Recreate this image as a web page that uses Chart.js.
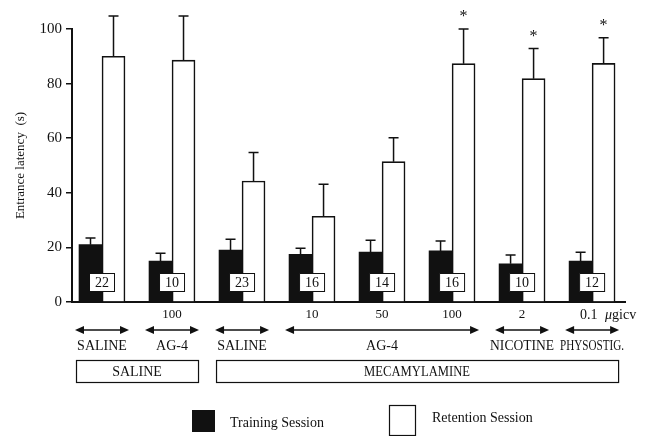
<!DOCTYPE html>
<html>
<head>
<meta charset="utf-8">
<script src="https://cdn.jsdelivr.net/npm/chart.js@4/dist/chart.umd.min.js"></script>
<style>
  html, body { margin: 0; padding: 0; background: #fff; }
  #c { display: block; }
</style>
</head>
<body>
<canvas id="c" width="650" height="436"></canvas>
<script>
// Passive avoidance: entrance latency per treatment group
const groupIndex = [0, 1, 2, 3, 4, 5, 6, 7];
const trainingMean = [21.0, 15.0, 19.0, 17.5, 18.3, 18.7, 14.0, 15.0];
const trainingSem  = [2.4, 2.9, 4.0, 2.2, 4.3, 3.6, 3.2, 3.2];
const retentionMean = [90.0, 88.6, 44.3, 31.4, 51.4, 87.3, 81.8, 87.4];
const retentionSem  = [14.8, 16.2, 10.5, 11.7, 8.8, 12.7, 11.1, 9.4];
const animalsPerGroup = [22, 10, 23, 16, 14, 16, 10, 12];
const significant = [false, false, false, false, false, true, true, true];
const yTicks = [0, 20, 40, 60, 80, 100];

// Dose row, treatment row (arrows) and pretreatment row (boxes)
const doseLabels = ['', '100', '', '10', '50', '100', '2', '0.1'];
const doseUnit = ['μ', 'gicv'];
const treatmentFrom  = [0, 1, 2, 3, 6, 7];
const treatmentTo    = [0, 1, 2, 5, 6, 7];
const treatmentNames = ['SALINE', 'AG-4', 'SALINE', 'AG-4', 'NICOTINE', 'PHYSOSTIG.'];
const pretreatFrom  = [0, 2];
const pretreatTo    = [1, 7];
const pretreatNames = ['SALINE', 'MECAMYLAMINE'];
const legendNames = ['Training Session', 'Retention Session'];

const SERIF = "'Liberation Serif', 'Times New Roman', serif";
const INK = '#111';

const annotate = {
  id: 'annotate',
  afterDatasetsDraw(chart) {
    const { ctx, scales: { x, y }, chartArea } = chart;
    const means = [trainingMean, retentionMean];
    const sems = [trainingSem, retentionSem];
    ctx.save();
    ctx.strokeStyle = INK;
    ctx.lineWidth = 1.5;
    // upward error bars
    for (let d = 0; d < 2; d++) {
      const meta = chart.getDatasetMeta(d);
      meta.data.forEach((bar, i) => {
        const top = y.getPixelForValue(means[d][i] + sems[d][i]);
        ctx.beginPath();
        ctx.moveTo(bar.x, bar.y);
        ctx.lineTo(bar.x, top);
        ctx.moveTo(bar.x - 5, top);
        ctx.lineTo(bar.x + 5, top);
        ctx.stroke();
        if (d === 1 && significant[i]) {
          ctx.fillStyle = INK;
          ctx.font = '16px ' + SERIF;
          ctx.textAlign = 'center';
          ctx.textBaseline = 'middle';
          ctx.fillText('*', bar.x, top - 12);
        }
      });
    }
    // group size boxes
    ctx.lineWidth = 1;
    ctx.font = '14px ' + SERIF;
    ctx.textAlign = 'center';
    ctx.textBaseline = 'middle';
    groupIndex.forEach((g, i) => {
      const cx = x.getPixelForValue(g);
      const top = chartArea.bottom - 29;
      ctx.fillStyle = '#fff';
      ctx.fillRect(cx - 13, top, 26, 19);
      ctx.strokeRect(cx - 13 + 0.5, top + 0.5, 25, 18);
      ctx.fillStyle = INK;
      ctx.fillText(String(animalsPerGroup[i]), cx, top + 10);
    });
    ctx.restore();
  },
  afterDraw(chart) {
    const { ctx, scales: { x }, chartArea } = chart;
    const b = chartArea.bottom;
    ctx.save();
    ctx.fillStyle = INK;
    ctx.strokeStyle = INK;
    ctx.textBaseline = 'middle';

    // doses
    ctx.font = '13px ' + SERIF;
    ctx.textAlign = 'center';
    doseLabels.forEach((lab, i) => {
      if (!lab) return;
      const cx = x.getPixelForValue(groupIndex[i]);
      if (i === doseLabels.length - 1) {
        ctx.font = '14px ' + SERIF;
        ctx.textAlign = 'left';
        ctx.fillText(lab, cx - 12, b + 13);
        ctx.font = 'italic 14px ' + SERIF;
        ctx.fillText(doseUnit[0], cx + 13, b + 13);
        const w = ctx.measureText(doseUnit[0]).width;
        ctx.font = '14px ' + SERIF;
        ctx.fillText(doseUnit[1], cx + 13 + w, b + 13);
        ctx.textAlign = 'center';
        ctx.font = '13px ' + SERIF;
      } else {
        ctx.fillText(lab, cx, b + 13);
      }
    });

    // double-headed arrows with treatment names
    const arrowY = b + 28;
    const head = (xt, dir) => {
      ctx.beginPath();
      ctx.moveTo(xt, arrowY);
      ctx.lineTo(xt - dir * 9, arrowY - 4);
      ctx.lineTo(xt - dir * 9, arrowY + 4);
      ctx.closePath();
      ctx.fill();
    };
    ctx.lineWidth = 1.3;
    treatmentNames.forEach((name, k) => {
      const x1 = x.getPixelForValue(treatmentFrom[k]) - 27;
      const x2 = x.getPixelForValue(treatmentTo[k]) + 27;
      ctx.beginPath();
      ctx.moveTo(x1 + 4, arrowY);
      ctx.lineTo(x2 - 4, arrowY);
      ctx.stroke();
      head(x1, -1);
      head(x2, 1);
      ctx.font = '14px ' + SERIF;
      ctx.textAlign = 'center';
      ctx.fillText(name, (x1 + x2) / 2, b + 44, 64);
    });

    // pretreatment boxes
    ctx.lineWidth = 1.2;
    pretreatNames.forEach((name, k) => {
      const x1 = x.getPixelForValue(pretreatFrom[k]) - 26;
      const x2 = x.getPixelForValue(pretreatTo[k]) + 26;
      ctx.strokeRect(x1 + 0.5, b + 58.5, x2 - x1, 22);
      ctx.font = '14px ' + SERIF;
      ctx.textAlign = 'center';
      ctx.fillText(name, (x1 + x2) / 2, b + 70, 106);
    });

    // legend
    ctx.fillRect(192, 410, 23, 22);
    ctx.lineWidth = 1.2;
    ctx.strokeRect(389.5, 405.5, 26, 30);
    ctx.font = '14px ' + SERIF;
    ctx.textAlign = 'left';
    ctx.fillText(legendNames[0], 230, 423);
    ctx.fillText(legendNames[1], 432, 418);
    ctx.restore();
  }
};

new Chart(document.getElementById('c'), {
  type: 'bar',
  data: {
    datasets: [
      {
        label: legendNames[0],
        data: groupIndex.map((g, i) => ({ x: g, y: trainingMean[i] })),
        backgroundColor: INK,
        borderColor: INK,
        borderWidth: 0,
        barThickness: 23
      },
      {
        label: legendNames[1],
        data: groupIndex.map((g, i) => ({ x: g, y: retentionMean[i] })),
        backgroundColor: '#fff',
        borderColor: INK,
        borderWidth: 1.6,
        barThickness: 23
      }
    ]
  },
  options: {
    responsive: false,
    animation: false,
    devicePixelRatio: 1,
    layout: { padding: { left: 0, right: 25, top: 29, bottom: 134 } },
    plugins: { legend: { display: false }, tooltip: { enabled: false } },
    scales: {
      x: {
        type: 'linear',
        min: -0.4286,
        max: 7.47,
        offset: false,
        ticks: { display: false },
        grid: { display: true, drawOnChartArea: false, drawTicks: false, offset: false },
        border: { display: true, color: INK, width: 2 },
        afterFit(scale) { scale.height = 0; }
      },
      y: {
        min: 0,
        max: 100,
        afterBuildTicks(scale) { scale.ticks = yTicks.map(v => ({ value: v })); },
        ticks: {
          color: INK,
          font: { family: SERIF, size: 15 },
          padding: 4
        },
        grid: { display: true, drawOnChartArea: false, drawTicks: true, tickLength: 6, color: INK, lineWidth: 1.5 },
        border: { display: true, color: INK, width: 2 },
        title: {
          display: true,
          text: 'Entrance latency  (s)',
          color: INK,
          font: { family: SERIF, size: 13 },
          padding: { top: 13, bottom: 0 }
        },
        afterFit(scale) { scale.width = 72; }
      }
    }
  },
  plugins: [annotate]
});
</script>
</body>
</html>
